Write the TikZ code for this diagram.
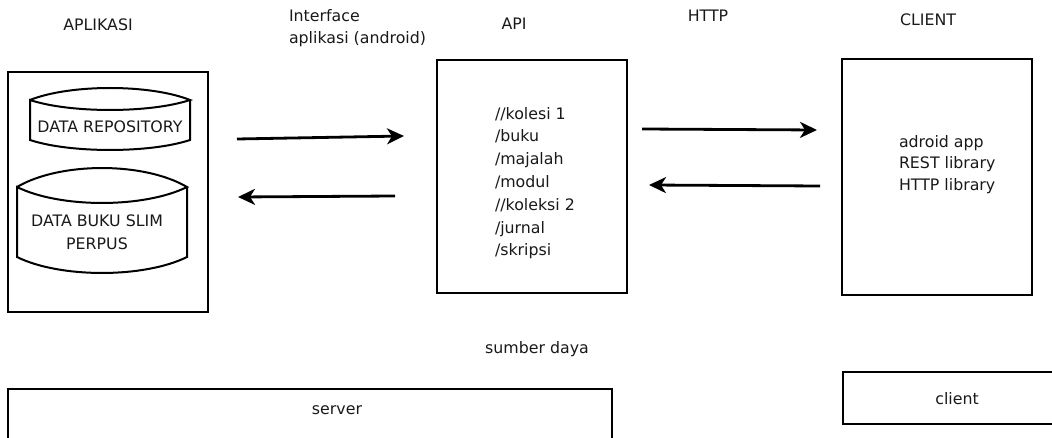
\documentclass[tikz,border=0pt]{standalone}
\usepackage{fontspec}
\setmainfont{DejaVu Sans}
\usetikzlibrary{arrows.meta}
\begin{document}
\begin{tikzpicture}[x=1pt,y=-1pt,
  every node/.style={inner sep=0pt,outer sep=0pt,font=\fontsize{15.8}{22.5}\selectfont,text=black!90},
  frame/.style={draw=black,line width=2.5},
  label/.style={anchor=center},
  conn/.style={line width=2.8,-{Stealth[length=17,width=16,inset=5]}},
  cyl/.style={draw=black,line width=2}]
\useasboundingbox (0,0) rectangle (1052,438);
\clip (0,0) rectangle (1052,438);
% top labels
\node[label] (lapp) at (98,25) {APLIKASI};
\node[anchor=north west,align=left] (lint) at (289,9) {Interface\\aplikasi (android)};
\node[label] (lapi) at (514,24) {API};
\node[label] (lhttp) at (708,16) {HTTP};
\node[label] (lcli) at (928,20) {CLIENT};
% app box
\node[frame,minimum width=200,minimum height=240] (app) at (108,192) {};
% cylinder 1
\draw[cyl] (30,100) .. controls (70,84) and (150,84) .. (190,100)
  .. controls (150,113.3) and (70,113.3) .. (30,100) -- (30,140)
  .. controls (70,153.3) and (150,153.3) .. (190,140) -- (190,100);
\node (repo) at (110,127) {DATA REPOSITORY};
% cylinder 2
\draw[cyl] (17,187) .. controls (60,161.7) and (144,161.7) .. (187,187)
  .. controls (144,208.3) and (60,208.3) .. (17,187) -- (17,257)
  .. controls (60,278.3) and (144,278.3) .. (187,257) -- (187,187);
\node[align=center] (slim) at (97,232) {DATA BUKU SLIM\\PERPUS};
% API box
\node[frame,minimum width=190,minimum height=233] (api) at (532,176.5) {};
\node[anchor=north west,align=left,font=\fontsize{15.8}{22.8}\selectfont] (apitxt) at (495,107) {//kolesi 1\\/buku\\/majalah\\/modul\\//koleksi 2\\/jurnal\\/skripsi};
% client box
\node[frame,minimum width=190,minimum height=236] (cli) at (937,177) {};
\node[anchor=north west,align=left,font=\fontsize{15.8}{21.5}\selectfont] (clitxt) at (899,135) {adroid app\\REST library\\HTTP library};
% arrows
\coordinate (a1s) at (237,139); \coordinate (a1e) at (404,136);
\coordinate (a2s) at (395,196); \coordinate (a2e) at (238,197);
\coordinate (a3s) at (642,129); \coordinate (a3e) at (817,130);
\coordinate (a4s) at (820,186); \coordinate (a4e) at (649,185);
\draw[conn] (a1s) -- (a1e);
\draw[conn] (a2s) -- (a2e);
\draw[conn] (a3s) -- (a3e);
\draw[conn] (a4s) -- (a4e);
% bottom
\node[label] (sumber) at (537,349) {sumber daya};
\draw[line width=2.5] (8,445) -- (8,389) -- (612,389) -- (612,445);
\node[label] (server) at (337,410) {server};
\draw[line width=2.5] (1060,372) -- (843,372) -- (843,424) -- (1060,424);
\node[label] (client) at (957,399) {client};
\end{tikzpicture}
\end{document}
